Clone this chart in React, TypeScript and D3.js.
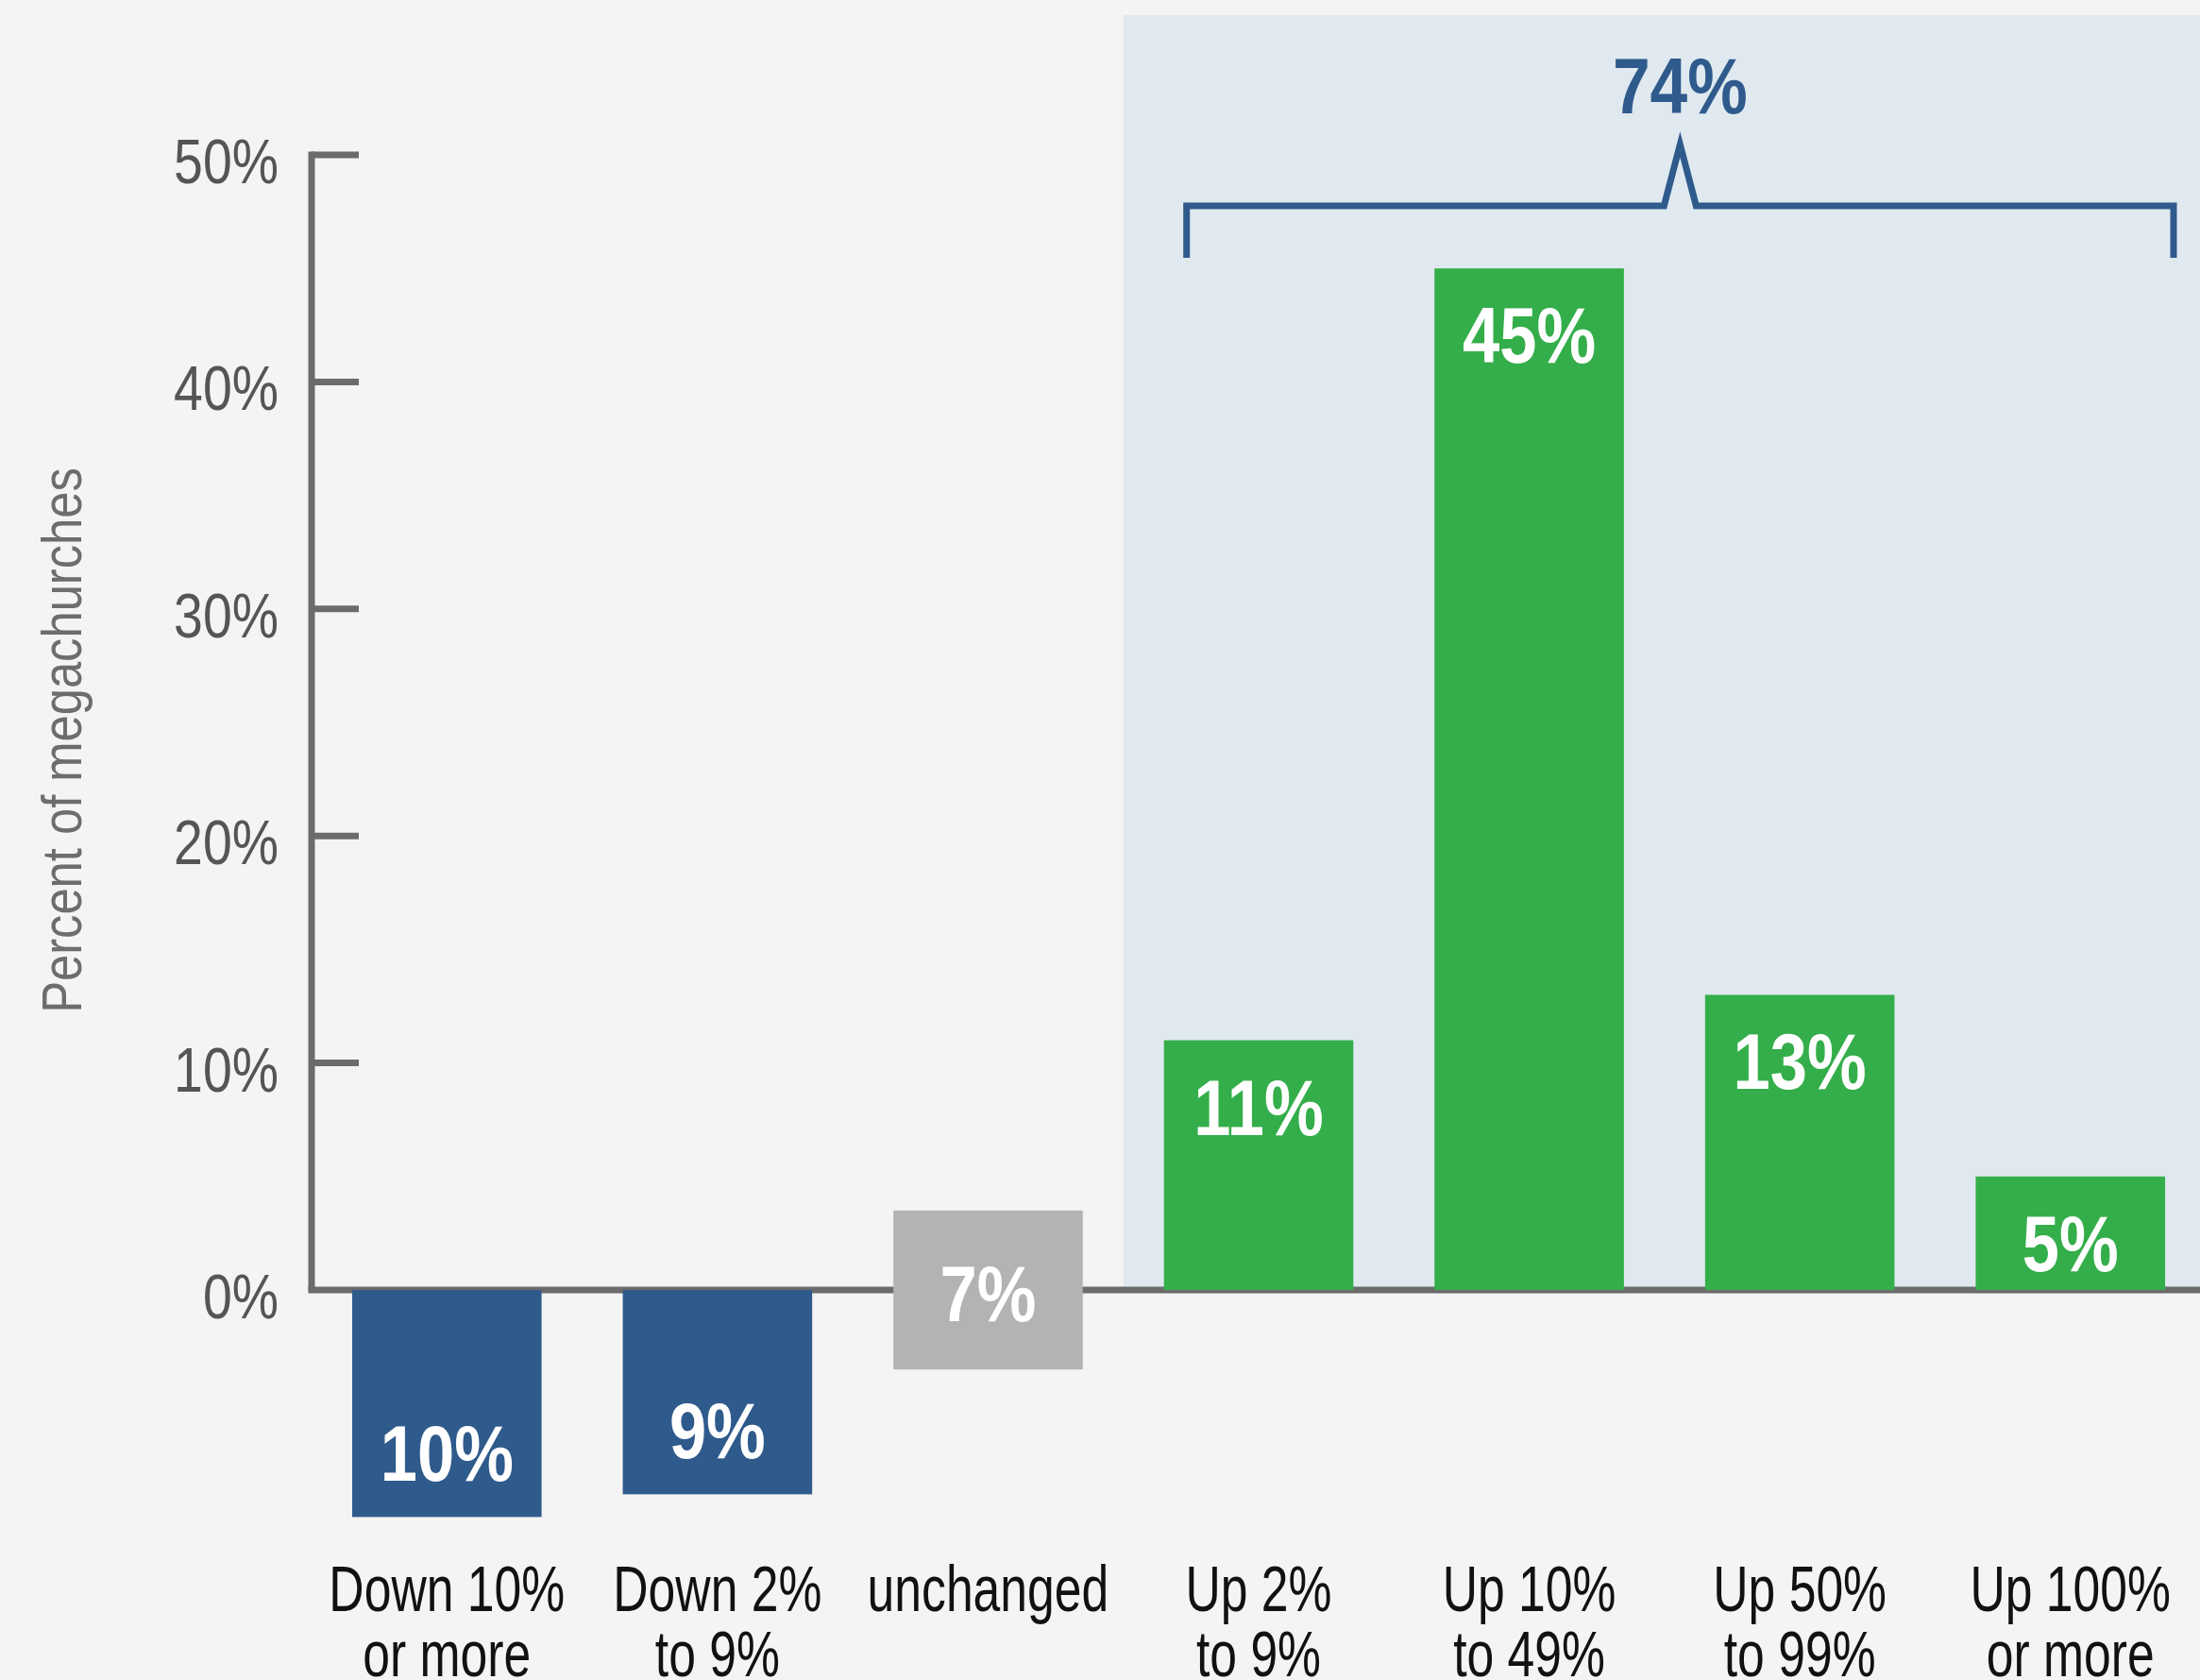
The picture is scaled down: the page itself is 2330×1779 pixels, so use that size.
import React from "react";
import * as d3 from "d3";

const categories = [
  ["Down 10%", "or more"],
  ["Down 2%", "to 9%"],
  ["unchanged", ""],
  ["Up 2%", "to 9%"],
  ["Up 10%", "to 49%"],
  ["Up 50%", "to 99%"],
  ["Up 100%", "or more"],
];
const keys = ["d10", "d2", "unch", "u2", "u10", "u50", "u100"];
const values = [-10, -9, 7, 11, 45, 13, 5];
const kinds = ["down", "down", "flat", "up", "up", "up", "up"];
const yTicks = [0, 10, 20, 30, 40, 50];
const totalUp = "74%";

const W = 2330;
const H = 1779;
const FONT = "'Liberation Sans', Arial, sans-serif";
const BLUE = "#2f5a8c";
const GREEN = "#34ae4a";
const GRAY_BAR = "#b3b3b3";
const AXIS = "#6b6b6b";

function CText(props: any) {
  const { x, y, sx = 0.8, rotate = 0, children, ...rest } = props;
  return (
    <text transform={`translate(${x},${y}) rotate(${rotate}) scale(${sx},1)`} {...rest}>
      {children}
    </text>
  );
}

export default function App() {
  const x = d3.scaleBand<string>().domain(keys).range([330, 2336]).paddingInner(0.3).paddingOuter(0.15);
  const y = d3.scaleLinear().domain([0, 50]).range([1366, 164]);
  const bw = x.bandwidth();
  const step = x.step();
  const color = (k: string) => (k === "down" ? BLUE : k === "up" ? GREEN : GRAY_BAR);

  const shadeX = (x(keys[3]) as number) - (step * 0.3) / 2;
  const brL = (x(keys[3]) as number) + 24;
  const brR = (x(keys[6]) as number) + bw + 9;
  const brMid = (brL + brR) / 2;
  const brY = 218;
  const brBottom = 273;
  const brPeak = 153;
  const bracket = d3.path();
  bracket.moveTo(brL, brBottom);
  bracket.lineTo(brL, brY);
  bracket.lineTo(brMid - 17, brY);
  bracket.lineTo(brMid, brPeak);
  bracket.lineTo(brMid + 17, brY);
  bracket.lineTo(brR, brY);
  bracket.lineTo(brR, brBottom);

  return (
    <svg width={W} height={H} style={{ position: "absolute", left: 0, top: 0 }} fontFamily={FONT}>
      <rect x={0} y={0} width={W} height={H} fill="#f4f4f4" />
      <rect x={shadeX} y={16} width={W - shadeX} height={y(0) - 16} fill="#dfe9ef" />

      {/* Y axis */}
      <line x1={330} x2={330} y1={y(50) - 3.5} y2={y(0)} stroke={AXIS} strokeWidth={7} />
      {yTicks.map((t) => (
        <g key={t}>
          {t > 0 && <line x1={330} x2={380} y1={y(t)} y2={y(t)} stroke={AXIS} strokeWidth={7} />}
          <CText x={295} y={y(t) + 30} sx={0.84} textAnchor="end" fontSize={66} fill="#555">
            {t}%
          </CText>
        </g>
      ))}
      <line x1={326.5} x2={W} y1={y(0)} y2={y(0)} stroke={AXIS} strokeWidth={7} />
      <CText x={86} y={784} rotate={-90} sx={0.845} textAnchor="middle" fontSize={60} fill="#6d6d6d">
        Percent of megachurches
      </CText>

      {/* Bars */}
      {keys.map((k, i) => {
        const v = values[i];
        const kind = kinds[i];
        let y0: number, y1: number;
        if (kind === "flat") {
          y0 = y(v / 2);
          y1 = y(-v / 2);
        } else if (v < 0) {
          y0 = y(0);
          y1 = y(v);
        } else {
          y0 = y(v);
          y1 = y(0);
        }
        const cx = (x(k) as number) + bw / 2;
        let ly: number;
        if (kind === "flat") ly = (y0 + y1) / 2 + 33;
        else if (v < 0) ly = y1 - 38;
        else ly = y0 + 100;
        return (
          <g key={k}>
            <rect x={x(k)} y={y0} width={bw} height={y1 - y0} fill={color(kind)} />
            <CText x={cx} y={ly} sx={0.84} textAnchor="middle" fontSize={84} fontWeight="bold" fill="#fff">
              {Math.abs(v)}%
            </CText>
            <CText x={cx} y={1706} sx={0.76} textAnchor="middle" fontSize={68} fill="#111">
              {categories[i][0]}
            </CText>
            {categories[i][1] && (
              <CText x={cx} y={1775} sx={0.76} textAnchor="middle" fontSize={68} fill="#111">
                {categories[i][1]}
              </CText>
            )}
          </g>
        );
      })}

      {/* Bracket */}
      <path d={bracket.toString()} fill="none" stroke={BLUE} strokeWidth={7} strokeLinejoin="miter" />
      <CText x={brMid} y={120} sx={0.85} textAnchor="middle" fontSize={84} fontWeight="bold" fill={BLUE}>
        {totalUp}
      </CText>
    </svg>
  );
}
